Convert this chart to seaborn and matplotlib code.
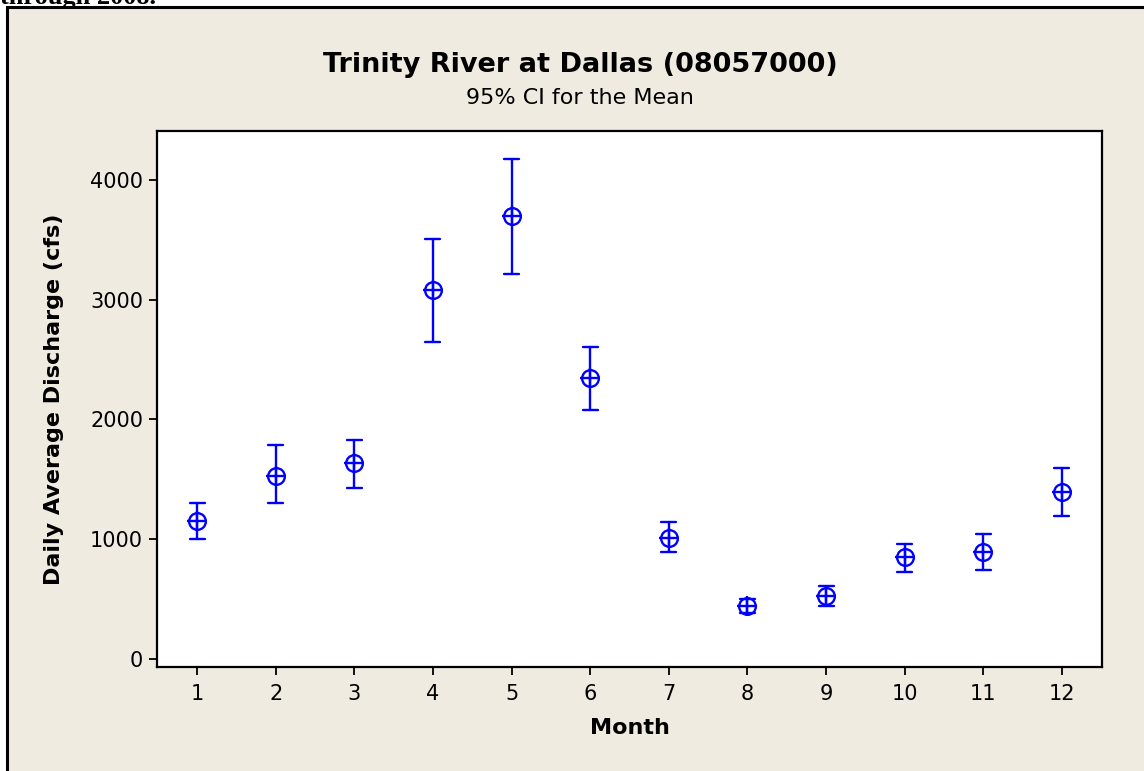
import matplotlib
matplotlib.use('Agg')
import matplotlib.pyplot as plt
import numpy as np
import pandas as pd
import seaborn as sns
from matplotlib.patches import Rectangle

# 95% CI for the mean daily discharge per month
months = [1, 2, 3, 4, 5, 6, 7, 8, 9, 10, 11, 12]
ci_lower = [1000, 1300, 1431, 2650, 3215, 2079, 896, 382, 445, 729, 746, 1197]
mean_vals = [1152, 1528, 1634, 3081, 3699, 2344, 1013, 443, 529, 849, 894, 1397]
ci_upper = [1300, 1784, 1831, 3505, 4173, 2603, 1147, 501, 612, 963, 1046, 1595]
y_ticks = [0, 1000, 2000, 3000, 4000]

# long form: lower / mean / upper per month -> median = mean, 100% interval = CI
rows = []
for m, lo, mu, hi in zip(months, ci_lower, mean_vals, ci_upper):
    for v in (lo, mu, hi):
        rows.append({'Month': m, 'value': v})
df = pd.DataFrame(rows)
df_mean = pd.DataFrame({'Month': months, 'value': mean_vals})

sns.set_style('white')
plt.rcParams['font.family'] = ['DejaVu Sans']
plt.rcParams['text.color'] = 'black'
plt.rcParams['axes.labelcolor'] = 'black'

blue = '#0000FF'
beige = '#EFEBE0'

fig = plt.figure(figsize=(11.44, 7.71), dpi=100, facecolor='white')
# beige panel with black frame (behind the axes)
fig.patches.append(Rectangle((7 / 1144, -0.01), 1.0, 1 - 7 / 771 + 0.01, transform=fig.transFigure,
                             facecolor=beige, edgecolor='black', linewidth=2.2, zorder=-5))
fig.text(0.0, 1 - 4 / 771, 'through 2008.', family='Liberation Serif', fontweight='bold',
         fontsize=19, va='baseline', ha='left')

ax = fig.add_axes([157 / 1144, 1 - 667 / 771, (1102 - 157) / 1144, (667 - 131) / 771])
ax.set_facecolor('white')

sns.pointplot(data=df, x='Month', y='value', estimator='median', errorbar=('pi', 100),
              native_scale=True, linestyle='none', color=blue, capsize=0.19,
              markers='o', markersize=12, markerfacecolor='none', markeredgewidth=1.7,
              err_kws={'linewidth': 1.7}, ax=ax)
sns.scatterplot(data=df_mean, x='Month', y='value', marker='+', s=190, color=blue,
                linewidth=1.7, ax=ax, zorder=5)

ax.set_xlim(0.49, 12.51)
ax.set_ylim(-68, 4410)
ax.set_xticks(months)
ax.set_xticklabels([str(m) for m in months])
ax.set_yticks(y_ticks)
ax.set_yticklabels([str(t) for t in y_ticks])

for s in ax.spines.values():
    s.set_visible(True)
    s.set_color('black')
    s.set_linewidth(1.6)
ax.tick_params(axis='both', which='major', direction='out', length=6, width=1.3,
               colors='black', labelsize=15, bottom=True, left=True)
ax.tick_params(axis='x', pad=6)
ax.tick_params(axis='y', pad=4)

ax.set_xlabel('Month', fontsize=16, fontweight='bold', labelpad=10)
ax.set_ylabel('Daily Average Discharge (cfs)', fontsize=16, fontweight='bold', labelpad=19)

fig.text(0.507, 1 - 65 / 771, 'Trinity River at Dallas (08057000)', fontsize=19.5,
         fontweight='bold', ha='center', va='center')
fig.text(0.507, 1 - 98 / 771, '95% CI for the Mean', fontsize=16, ha='center', va='center')

fig.savefig('out.png', dpi=100, facecolor=fig.get_facecolor())
